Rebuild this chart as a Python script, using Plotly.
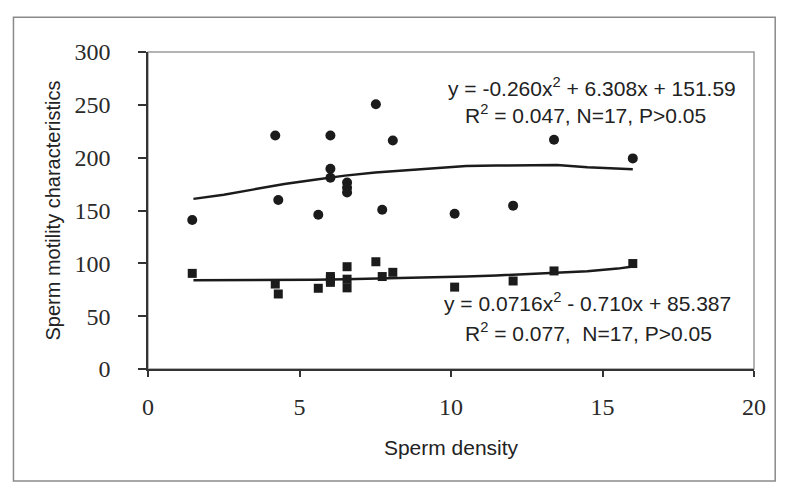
import plotly.graph_objects as go

# ---- data ----
density = [1.46, 4.20, 4.30, 5.62, 6.02, 6.02, 6.02, 6.57, 6.57, 6.57,
           7.52, 7.73, 8.08, 10.12, 12.05, 13.40, 16.00]
motility_circles = [141, 221, 160, 146, 221, 189.5, 181, 176.5, 171.5, 167,
                    250.5, 150.7, 216.3, 147, 154.6, 217, 199.3]
motility_squares = [90.5, 80.4, 71, 76.4, 87.5, 82, 85, 96.8, 76.8, 85,
                    101.5, 87.5, 91.5, 77.5, 83.3, 92.8, 99.8]

trend_x = [1.5, 2.5, 3.5, 4.5, 5.5, 6.5, 7.5, 8.5, 9.5, 10.5, 11.5, 12.5,
           13.5, 14.5, 15.5, 16.0]
trend_top = [161, 165, 170, 175, 179, 183, 186, 188, 190, 192, 192.5, 193,
             193, 191, 190, 189]
trend_bottom = [84, 84, 84, 84, 84.5, 85, 85.5, 86.5, 87, 87.5, 88.5, 90,
                91, 92.5, 95, 97]

x_ticks = [0, 5, 10, 15, 20]
y_ticks = [0, 50, 100, 150, 200, 250, 300]

eq_top = "y = -0.260x<sup>2</sup> + 6.308x + 151.59"
r_top = "R<sup>2</sup> = 0.047, N=17, P>0.05"
eq_bottom = "y = 0.0716x<sup>2</sup> - 0.710x + 85.387"
r_bottom = "R<sup>2</sup> = 0.077,  N=17, P>0.05"

INK = "#1b1b1b"

fig = go.Figure()
fig.add_trace(go.Scatter(x=trend_x, y=trend_top, mode="lines",
                         line=dict(color=INK, width=2.5), showlegend=False))
fig.add_trace(go.Scatter(x=trend_x, y=trend_bottom, mode="lines",
                         line=dict(color=INK, width=2.5), showlegend=False))
fig.add_trace(go.Scatter(x=density, y=motility_circles, mode="markers",
                         marker=dict(symbol="circle", size=10, color=INK),
                         showlegend=False))
fig.add_trace(go.Scatter(x=density, y=motility_squares, mode="markers",
                         marker=dict(symbol="square", size=9, color=INK),
                         showlegend=False))

ann_font = dict(family="Liberation Sans, Arial, sans-serif", size=21, color="#222")
for txt, xx, yy in [(eq_top, 14.65, 267), (r_top, 14.45, 241),
                    (eq_bottom, 14.5, 63.5), (r_bottom, 14.55, 35)]:
    fig.add_annotation(x=xx, y=yy, xref="x", yref="y", text=txt,
                       showarrow=False, font=ann_font,
                       xanchor="center", yanchor="middle")

# plot-area border (light) and outer chart border
fig.add_shape(type="rect", xref="paper", yref="paper", x0=0, x1=1, y0=0, y1=1,
              line=dict(color="#9a9a9a", width=1.5), layer="below")
fig.add_shape(type="rect", xref="paper", yref="paper",
              x0=-0.222, x1=1.035, y0=-0.353, y1=1.11,
              line=dict(color="#8a8a8a", width=1.5), layer="below")

tick_font = dict(family="Liberation Serif, Times New Roman, serif", size=24, color="#2a2a2a")
title_font = dict(family="Liberation Sans, Arial, sans-serif", size=20, color="#222")

fig.update_layout(
    width=787, height=484,
    margin=dict(l=148, r=33, t=52, b=115),
    paper_bgcolor="white", plot_bgcolor="white",
    xaxis=dict(range=[0, 20], tickvals=x_ticks, ticktext=[str(v) for v in x_ticks],
               showgrid=False, zeroline=False, showline=True,
               linecolor="#333", linewidth=1.5,
               ticks="outside", ticklen=6, tickwidth=1.5, tickcolor="#333",
               tickfont=tick_font, ticklabelstandoff=9,
               title=dict(text="Sperm density", font=dict(title_font, size=21), standoff=22)),
    yaxis=dict(range=[0, 300], tickvals=y_ticks, ticktext=[str(v) for v in y_ticks],
               showgrid=False, zeroline=False, showline=True,
               linecolor="#333", linewidth=1.5,
               ticks="outside", ticklen=8, tickwidth=1.5, tickcolor="#333",
               tickfont=tick_font, ticklabelstandoff=23,
               title=dict(text="Sperm motility characteristics", font=title_font, standoff=8)),
)

fig.write_html("out.html", config={"displayModeBar": False},
               post_script="document.body.style.margin='0';document.body.style.overflow='hidden';")
